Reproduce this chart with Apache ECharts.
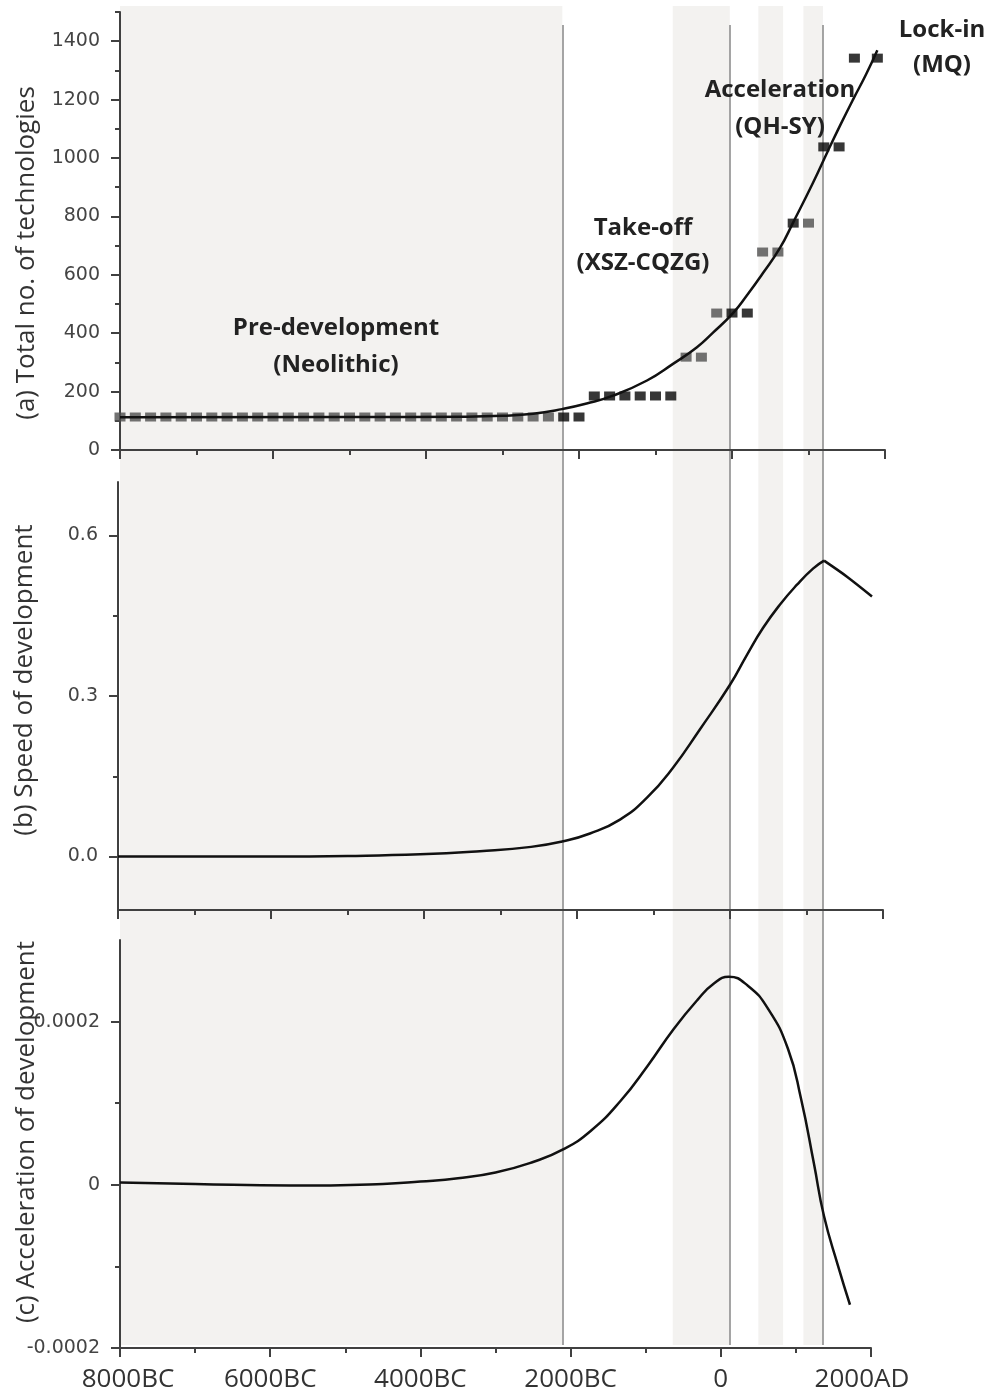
<!DOCTYPE html>
<html><head><meta charset="utf-8">
<script src="https://cdn.jsdelivr.net/npm/echarts@6.0.0/dist/echarts.min.js"></script>
<style>html,body{margin:0;padding:0;background:#fff}#chart{width:992px;height:1395px}</style>
</head><body><div id="chart"></div>
<script>
// ---------- data ----------
const xTickValues = [-8000, -6000, -4000, -2000, 0, 2000];
const xTickLabels = ['8000BC', '6000BC', '4000BC', '2000BC', '0', '2000AD'];

const techTickValues = [0, 200, 400, 600, 800, 1000, 1200, 1400];
const techMinorTicks = [100, 300, 500, 700, 900, 1100, 1300, 1500];
const speedTickValues = [0, 0.3, 0.6];
const speedTickLabels = ['0.0', '0.3', '0.6'];
const speedMinorTicks = [0.15, 0.45];
const accelTickValues = [-0.0002, 0, 0.0002];
const accelTickLabels = ['-0.0002', '0', '0.0002'];
const accelMinorTicks = [-0.0001, 0.0001];

const periodBands = [[-8000, -2110], [-640, 120], [500, 830], [1100, 1360]];
const periodLines = [-2110, 120, 1360];

const panelTitles = ['(a) Total no. of technologies', '(b) Speed of development', '(c) Acceleration of development'];
const phaseNames = ['Pre-development\n(Neolithic)', 'Take-off\n(XSZ-CQZG)', 'Acceleration\n(QH-SY)', 'Lock-in\n(MQ)'];

// total number of technologies (two alternating period groups)
const techGray = [
  [-8000,113],[-7800,113],[-7600,113],[-7400,113],[-7200,113],[-7000,113],[-6800,113],[-6600,113],
  [-6400,113],[-6200,113],[-6000,113],[-5800,113],[-5600,113],[-5400,113],[-5200,113],[-5000,113],
  [-4800,113],[-4600,113],[-4400,113],[-4200,113],[-4000,113],[-3800,113],[-3600,113],[-3400,113],
  [-3200,113],[-3000,113],[-2800,113],[-2600,113],[-2400,113],
  [-600,318],[-400,318],[-200,469],[400,678],[600,678],[1000,777]
];
const techBlack = [
  [-2200,113],[-2000,113],
  [-1800,185],[-1600,185],[-1400,185],[-1200,185],[-1000,185],[-800,185],
  [0,469],[200,469],[800,777],[1200,1038],[1400,1038],[1600,1342],[1900,1342]
];
const techFit = [
  [-8000,112],[-5000,113],[-3500,114],[-3000,117],[-2600,124],[-2222,140],[-1900,159],
  [-1556,186],[-1111,238],[-771,295],[-458,352],[-248,402],[13,469],[196,530],[405,606],
  [627,692],[797,778],[1059,915],[1255,1025],[1420,1115],[1582,1200],[1750,1285],[1900,1369]
];
// speed of development: rising branch up to the peak, falling branch after it
const speedRise = [
  [-8000,0],[-6000,0],[-5000,0.001],[-4050,0.004],[-3270,0.010],[-2600,0.018],[-2196,0.028],
  [-1830,0.043],[-1438,0.069],[-1085,0.110],[-745,0.166],[-392,0.238],[0,0.321],[222,0.377],
  [431,0.427],[654,0.471],[876,0.508],[1085,0.538],[1229,0.553]
];
const speedFall = [[1229,0.553],[1529,0.523],[1856,0.486]];
const accelCurve = [
  [-8000,0.0000028],[-7000,0.000001],[-5733,-0.000001],[-4500,0.000001],[-4000,0.000004],
  [-3500,0.000008],[-3000,0.000015],[-2500,0.000028],[-2107,0.000043],[-1733,0.000066],
  [-1333,0.000103],[-973,0.000146],[-627,0.000191],[-307,0.000227],[-100,0.000246],[107,0.000255],
  [360,0.000244],[627,0.000216],[893,0.000167],[1067,0.000106],[1240,0.000026],
  [1373,-0.000038],[1560,-0.000099],[1720,-0.000147]
];

// ---------- chart ----------
const AX = '#404040';
function lookup(values, labels) {
  return function (v) {
    const i = values.findIndex(t => Math.abs(t - v) < 1e-12);
    return i >= 0 ? labels[i] : '';
  };
}
const yLabelStyle = { fontFamily: 'DejaVu Sans', fontSize: 19, color: '#444', margin: 20 };
const xFont = { fontFamily: 'Open Sans', fontSize: 26, color: '#333' };

function mainX(grid, showLabels) {
  return {
    type: 'value', gridIndex: grid, min: -8000, max: 2000, interval: 2000, z: 5,
    axisLine: { show: true, onZero: false, lineStyle: { color: AX, width: 2 } },
    axisTick: { show: true, length: 9, lineStyle: { color: AX, width: 2 } },
    minorTick: { show: true, splitNumber: 2, length: 5, lineStyle: { color: AX, width: 2 } },
    splitLine: { show: false }, minorSplitLine: { show: false },
    axisLabel: showLabels ? Object.assign({
      show: true, margin: 19,
      formatter: function (v) {
        const t = lookup(xTickValues, xTickLabels)(v);
        if (v === xTickValues[0]) return '{l|' + t + '}';
        if (v === xTickValues[xTickValues.length - 1]) return '{r|' + t + '}';
        return t;
      },
      rich: {
        l: Object.assign({ padding: [0, 0, 0, 16] }, xFont),
        r: Object.assign({ padding: [0, 18, 0, 0] }, xFont)
      }
    }, xFont) : { show: false }
  };
}
function mainY(grid, min, max, ticks, labelFn) {
  return {
    type: 'value', gridIndex: grid, min: min, max: max, position: 'left', z: 5,
    axisLine: { show: true, onZero: false, lineStyle: { color: AX, width: 2 } },
    axisTick: { show: true, length: 9, customValues: ticks, lineStyle: { color: AX, width: 2 } },
    axisLabel: Object.assign({ show: true, customValues: ticks, formatter: labelFn }, yLabelStyle),
    splitLine: { show: false }
  };
}
function minorY(grid, min, max, ticks) {
  return {
    type: 'value', gridIndex: grid, min: min, max: max, position: 'left', offset: 0, z: 5,
    axisLine: { show: false, onZero: false },
    axisTick: { show: true, length: 5, customValues: ticks, lineStyle: { color: AX, width: 2 } },
    axisLabel: { show: false }, splitLine: { show: false }
  };
}
const hiddenX = g => ({ type: 'value', gridIndex: g, min: -8000, max: 2000, show: false });
const hiddenY = g => ({ type: 'value', gridIndex: g, min: 0, max: 1, show: false });
const curveStyle = { color: '#111', width: 2.5 };

const option = {
  animation: false,
  backgroundColor: '#fff',
  grid: [
    { left: 120, right: 121, top: 6, bottom: 50 },     // 0 bands
    { left: 120, right: 121, top: 25, bottom: 50 },    // 1 period lines
    { left: 120, right: 107, top: 12, bottom: 945 },   // 2 panel a
    { left: 118, right: 109, top: 482, bottom: 485 },  // 3 panel b
    { left: 120, right: 121, top: 940, bottom: 47 }    // 4 panel c
  ],
  xAxis: [hiddenX(0), hiddenX(1), mainX(2, false), mainX(3, false), mainX(4, true)],
  yAxis: [
    hiddenY(0), hiddenY(1),
    mainY(2, 0, 1500, techTickValues, v => String(Math.round(v))),
    mainY(3, -0.1, 0.7, speedTickValues, lookup(speedTickValues, speedTickLabels)),
    mainY(4, -0.0002, 0.0003, accelTickValues, lookup(accelTickValues, accelTickLabels)),
    minorY(2, 0, 1500, techMinorTicks),
    minorY(3, -0.1, 0.7, speedMinorTicks),
    minorY(4, -0.0002, 0.0003, accelMinorTicks)
  ],
  series: [
    {
      type: 'line', xAxisIndex: 0, yAxisIndex: 0, data: [], z: 1, silent: true,
      markArea: {
        silent: true, itemStyle: { color: '#f3f2f0' },
        data: periodBands.map(b => [{ xAxis: b[0] }, { xAxis: b[1] }])
      }
    },
    {
      type: 'line', xAxisIndex: 1, yAxisIndex: 1, data: [], z: 2, silent: true,
      markLine: {
        silent: true, symbol: 'none', label: { show: false },
        lineStyle: { color: '#8f8f8f', width: 1.6, type: 'solid' },
        data: periodLines.map(v => ({ xAxis: v }))
      }
    },
    { type: 'line', xAxisIndex: 2, yAxisIndex: 2, data: techFit, smooth: 0.5,
      showSymbol: false, z: 9, lineStyle: curveStyle },
    { type: 'scatter', xAxisIndex: 2, yAxisIndex: 2, data: techGray, symbol: 'rect',
      symbolSize: [11, 9], z: 8, itemStyle: { color: '#4f4f4f' } },
    { type: 'scatter', xAxisIndex: 2, yAxisIndex: 2, data: techBlack, symbol: 'rect',
      symbolSize: [11, 9], z: 8, itemStyle: { color: '#050505' } },
    { type: 'line', xAxisIndex: 3, yAxisIndex: 3, data: speedRise, smooth: 0.5,
      showSymbol: false, z: 9, lineStyle: curveStyle },
    { type: 'line', xAxisIndex: 3, yAxisIndex: 3, data: speedFall, smooth: 0.3,
      showSymbol: false, z: 9, lineStyle: curveStyle },
    { type: 'line', xAxisIndex: 4, yAxisIndex: 4, data: accelCurve, smooth: 0.5,
      showSymbol: false, z: 9, lineStyle: curveStyle }
  ],
  graphic: [
    { type: 'text', x: 27, y: 253, rotation: Math.PI / 2, z: 20,
      style: { text: panelTitles[0], font: '26px "Open Sans"', fill: '#333', align: 'center', verticalAlign: 'middle' } },
    { type: 'text', x: 25, y: 680, rotation: Math.PI / 2, z: 20,
      style: { text: panelTitles[1], font: '26px "Open Sans"', fill: '#333', align: 'center', verticalAlign: 'middle' } },
    { type: 'text', x: 27, y: 1132, rotation: Math.PI / 2, z: 20,
      style: { text: panelTitles[2], font: '26px "Open Sans"', fill: '#333', align: 'center', verticalAlign: 'middle' } },
    { type: 'text', x: 336, y: 347, z: 20,
      style: { text: phaseNames[0], font: 'bold 24px "Open Sans"', fill: '#222', align: 'center', verticalAlign: 'middle', lineHeight: 37 } },
    { type: 'text', x: 643, y: 246, z: 20,
      style: { text: phaseNames[1], font: 'bold 24px "Open Sans"', fill: '#222', align: 'center', verticalAlign: 'middle', lineHeight: 35 } },
    { type: 'text', x: 780, y: 109, z: 20,
      style: { text: phaseNames[2], font: 'bold 24px "Open Sans"', fill: '#222', align: 'center', verticalAlign: 'middle', lineHeight: 37 } },
    { type: 'text', x: 942, y: 48, z: 20,
      style: { text: phaseNames[3], font: 'bold 24px "Open Sans"', fill: '#222', align: 'center', verticalAlign: 'middle', lineHeight: 35 } }
  ]
};
const chart = echarts.init(document.getElementById('chart'), null, { renderer: 'canvas' });
chart.setOption(option);
</script>
</body></html>
